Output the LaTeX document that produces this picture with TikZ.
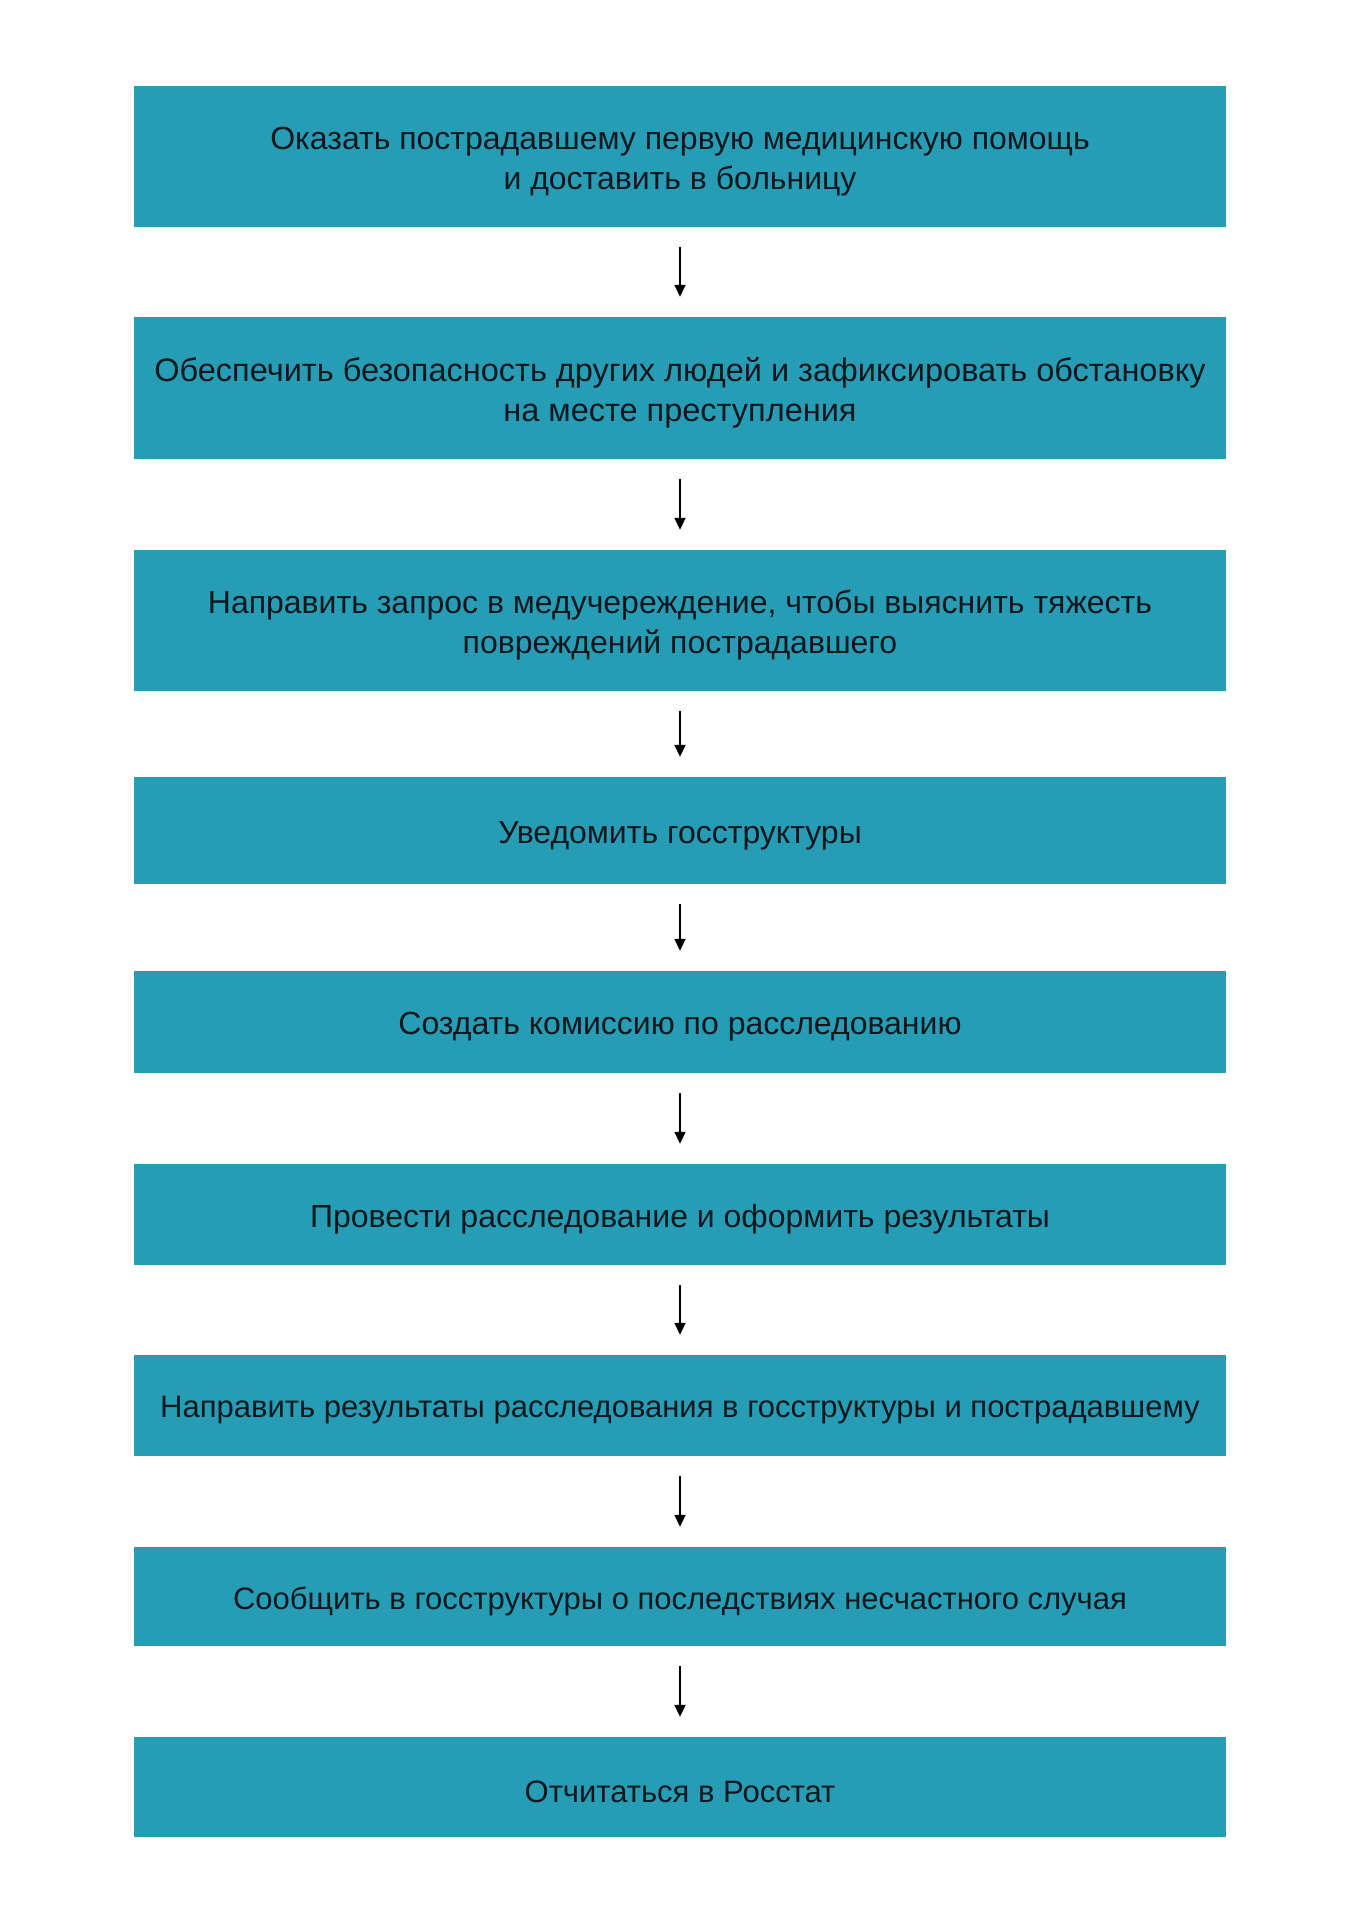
\documentclass[tikz,border=0pt]{standalone}
\usepackage{fontspec}
\setmainfont{Liberation Sans}
\usetikzlibrary{arrows.meta}
\definecolor{boxteal}{RGB}{39,157,181}
\definecolor{boxtext}{RGB}{12,24,30}
\newcommand{\lowr}[1]{\raisebox{-5pt}[\height][\depth]{#1}}
\tikzset{
  stepbox/.style={rectangle, fill=boxteal, draw=none, minimum width=1092pt,
    inner sep=0pt, align=center, text=boxtext,
    font=\fontsize{32pt}{40pt}\selectfont},
  smalltext/.style={font=\fontsize{31pt}{40pt}\selectfont},
  flowarrow/.style={line width=1.8pt, -{Triangle[width=11pt,length=12pt]},
    shorten <=20pt, shorten >=20pt}
}
\begin{document}
\begin{tikzpicture}[x=1pt,y=1pt]
\useasboundingbox[fill=white] (0,0) rectangle (1360,-1924);
\node[stepbox, minimum height=141pt] (b1) at (680,-156.5)
  {\lowr{Оказать пострадавшему первую медицинскую помощь}\\\lowr{и доставить в больницу}};
\node[stepbox, minimum height=142pt, font=\fontsize{32.5pt}{40pt}\selectfont] (b2) at (680,-388)
  {\lowr{Обеспечить безопасность других людей и зафиксировать обстановку}\\\lowr{на месте преступления}};
\node[stepbox, minimum height=141pt] (b3) at (680,-620.5)
  {\lowr{Направить запрос в медучереждение, чтобы выяснить тяжесть}\\\lowr{повреждений пострадавшего}};
\node[stepbox, minimum height=107pt] (b4) at (680,-830.5)
  {\lowr{Уведомить госструктуры}};
\node[stepbox, minimum height=102pt] (b5) at (680,-1022)
  {\lowr{Создать комиссию по расследованию}};
\node[stepbox, minimum height=101pt] (b6) at (680,-1214.5)
  {\lowr{Провести расследование и оформить результаты}};
\node[stepbox, smalltext, minimum height=101pt] (b7) at (680,-1405.5)
  {\lowr{Направить результаты расследования в госструктуры и пострадавшему}};
\node[stepbox, smalltext, minimum height=99pt] (b8) at (680,-1596.5)
  {\lowr{Сообщить в госструктуры о последствиях несчастного случая}};
\node[stepbox, smalltext, minimum height=100pt] (b9) at (680,-1787)
  {\lowr{Отчитаться в Росстат}};
\draw[flowarrow] (b1.south) -- (b2.north);
\draw[flowarrow] (b2.south) -- (b3.north);
\draw[flowarrow] (b3.south) -- (b4.north);
\draw[flowarrow] (b4.south) -- (b5.north);
\draw[flowarrow] (b5.south) -- (b6.north);
\draw[flowarrow] (b6.south) -- (b7.north);
\draw[flowarrow] (b7.south) -- (b8.north);
\draw[flowarrow] (b8.south) -- (b9.north);
\end{tikzpicture}
\end{document}
